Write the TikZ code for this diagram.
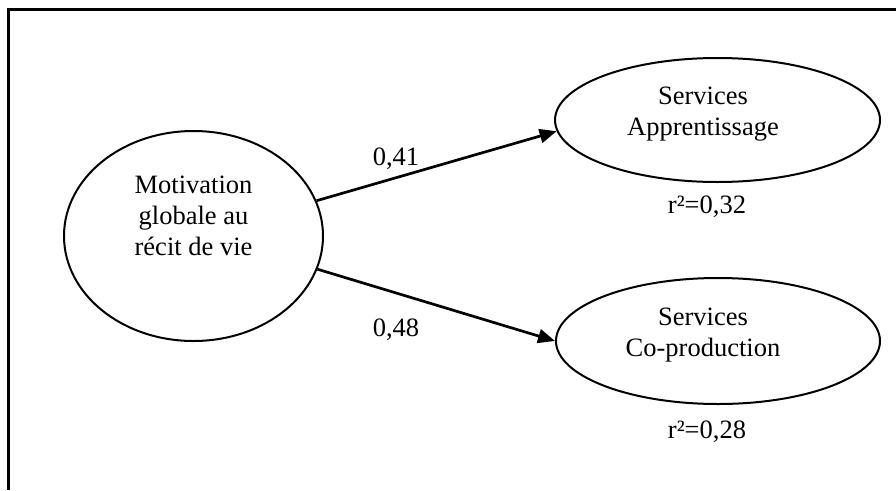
\documentclass[tikz,border=0pt]{standalone}
\usepackage{fontspec}
\setmainfont{Liberation Serif}
\usetikzlibrary{shapes.geometric,arrows.meta}
\begin{document}
\begin{tikzpicture}[x=1pt,y=-1pt,
  oval/.style={draw,ellipse,line width=2pt,inner sep=0pt},
  txt/.style={inner sep=0pt,align=center,font=\fontsize{26.5}{31}\selectfont},
  path/.style={line width=2.7pt,-{Triangle[length=17pt,width=14pt]}},
  frame/.style={line width=2.4pt}]
\useasboundingbox (0,0) rectangle (896,490);
\coordinate (fb) at (8.5,490);
\coordinate (fc) at (8.5,9.5);
\coordinate (fr) at (896,9.5);
\draw[frame] (fb) -- (fc) -- (fr);
\node[oval,minimum width=259pt,minimum height=210pt] (m) at (193.5,236) {};
\node[oval,minimum width=325pt,minimum height=124pt] (a) at (717.5,120) {};
\node[oval,minimum width=324pt,minimum height=126pt] (c) at (718,341) {};
\node[txt,anchor=base] (mt) at (193.5,255) {Motivation\\globale au\\récit de vie};
\node[txt,anchor=base] (at) at (703,135) {Services\\Apprentissage};
\node[txt,anchor=base] (ct) at (703,356) {Services\\Co-production};
\draw[path] (m.16) -- (a.184.4);
\draw[path] (m.-15.5) -- (c.180.7);
\node[txt,anchor=base] (l1) at (396,165) {0,41};
\node[txt,anchor=base] (l2) at (396,336) {0,48};
\node[txt,anchor=base] (r1) at (707,213) {r²=0,32};
\node[txt,anchor=base] (r2) at (707,438) {r²=0,28};
\end{tikzpicture}
\end{document}
